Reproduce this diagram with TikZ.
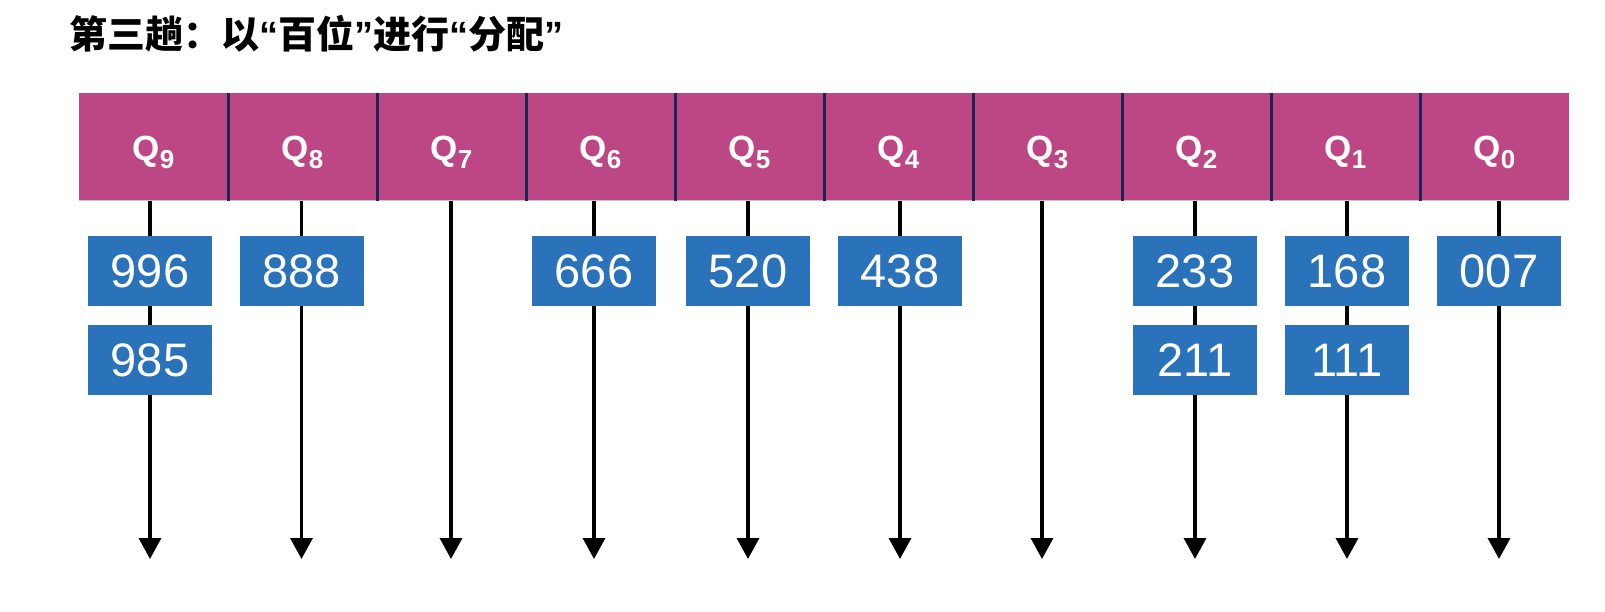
\documentclass[tikz,border=0pt]{standalone}
\usepackage{fontspec}
\setmainfont{Liberation Sans}
\newfontfamily\cjk{Noto Sans CJK SC}
\usepackage{xcolor}
\usepackage{tikz}
\usetikzlibrary{arrows.meta, positioning}

\definecolor{barpink}{RGB}{189,71,132}
\definecolor{boxblue}{RGB}{42,114,185}
\definecolor{divnavy}{RGB}{27,38,84}

\newcommand{\qname}[1]{Q\raisebox{-8pt}{\fontsize{26}{26}\selectfont #1}}
\newcommand{\openq}{{\rmfamily “}}
\newcommand{\closeq}{{\rmfamily ”}}

\begin{document}
\begin{tikzpicture}[x=1pt, y=-1pt,
  cell/.style={fill=barpink, minimum width=149pt, minimum height=108pt,
    inner sep=0pt, outer sep=0pt, text=white, text height=28pt, text depth=0pt,
    font=\bfseries\fontsize{35}{35}\selectfont},
  numbox/.style={fill=boxblue, minimum width=124pt, minimum height=70pt,
    inner sep=0pt, text=white, font=\fontsize{47}{47}\selectfont},
  divider/.style={divnavy, line width=3pt},
  arrow/.style={-{Triangle[width=22pt, length=21pt]}, line width=3.5pt}]
  \useasboundingbox (0,0) rectangle (1605,612);

  \node[anchor=base west, inner sep=0pt, font=\cjk\bfseries\fontsize{38}{40}\selectfont] (title) at (69,49) {第三趟：以\openq 百位\closeq 进行\openq 分配\closeq};

  % the ten queues
  \node[cell] (q9) at (153.5,147) {\qname{9}};
  \node[cell, right=0pt of q9] (q8) {\qname{8}};
  \node[cell, right=0pt of q8] (q7) {\qname{7}};
  \node[cell, right=0pt of q7] (q6) {\qname{6}};
  \node[cell, right=0pt of q6] (q5) {\qname{5}};
  \node[cell, right=0pt of q5] (q4) {\qname{4}};
  \node[cell, right=0pt of q4] (q3) {\qname{3}};
  \node[cell, right=0pt of q3] (q2) {\qname{2}};
  \node[cell, right=0pt of q2] (q1) {\qname{1}};
  \node[cell, right=0pt of q1] (q0) {\qname{0}};

  \draw[gray!45, line width=1pt] (q9.south west) -- (q0.south east);
  \draw[divider] (q9.north east) -- (q9.south east);
  \draw[divider] (q8.north east) -- (q8.south east);
  \draw[divider] (q7.north east) -- (q7.south east);
  \draw[divider] (q6.north east) -- (q6.south east);
  \draw[divider] (q5.north east) -- (q5.south east);
  \draw[divider] (q4.north east) -- (q4.south east);
  \draw[divider] (q3.north east) -- (q3.south east);
  \draw[divider] (q2.north east) -- (q2.south east);
  \draw[divider] (q1.north east) -- (q1.south east);

  % arrow ends
  \coordinate (e9) at (150,559);
  \coordinate (e8) at (301.5,559);
  \coordinate (e7) at (451,559);
  \coordinate (e6) at (594,559);
  \coordinate (e5) at (748,559);
  \coordinate (e4) at (900,559);
  \coordinate (e3) at (1042,559);
  \coordinate (e2) at (1195,559);
  \coordinate (e1) at (1347,559);
  \coordinate (e0) at (1499,559);

  \draw[arrow] (q9.south -| e9) -- (e9);
  \draw[arrow] (q8.south -| e8) -- (e8);
  \draw[arrow] (q7.south -| e7) -- (e7);
  \draw[arrow] (q6.south -| e6) -- (e6);
  \draw[arrow] (q5.south -| e5) -- (e5);
  \draw[arrow] (q4.south -| e4) -- (e4);
  \draw[arrow] (q3.south -| e3) -- (e3);
  \draw[arrow] (q2.south -| e2) -- (e2);
  \draw[arrow] (q1.south -| e1) -- (e1);
  \draw[arrow] (q0.south -| e0) -- (e0);

  % keys in each queue
  \coordinate (row) at (0,271);
  \node[numbox] (n996) at (e9 |- row) {996};
  \node[numbox, below=19pt of n996] (n985) {985};
  \node[numbox] (n888) at (e8 |- row) {888};
  \node[numbox] (n666) at (e6 |- row) {666};
  \node[numbox] (n520) at (e5 |- row) {520};
  \node[numbox] (n438) at (e4 |- row) {438};
  \node[numbox] (n233) at (e2 |- row) {233};
  \node[numbox, below=19pt of n233] (n211) {211};
  \node[numbox] (n168) at (e1 |- row) {168};
  \node[numbox, below=19pt of n168] (n111) {111};
  \node[numbox] (n007) at (e0 |- row) {007};
\end{tikzpicture}
\end{document}
